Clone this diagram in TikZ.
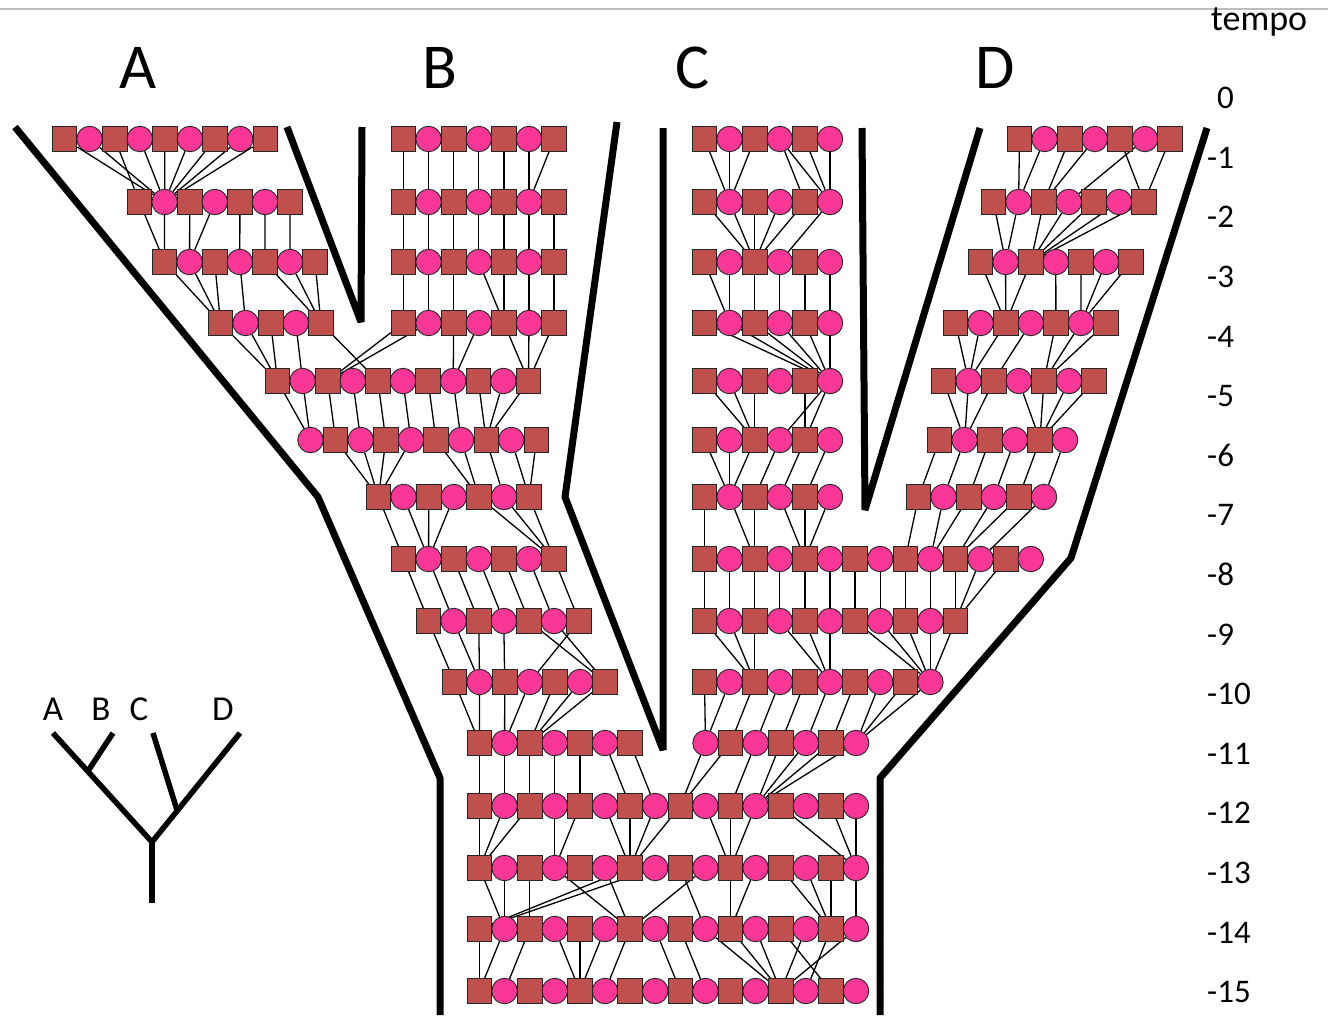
\documentclass[tikz,border=0pt]{standalone}
\usepackage{fontspec}
\setmainfont{Carlito}
\usetikzlibrary{calc}
\definecolor{sqred}{RGB}{192,80,77}
\definecolor{cipink}{RGB}{250,55,150}
\pgfdeclarelayer{bg}
\pgfsetlayers{bg,main}
\tikzset{
	sq/.style={draw=black!85, line width=0.9pt, fill=sqred, minimum size=24.5pt, inner sep=0pt},
	ci/.style={circle, draw=black!85, line width=0.9pt, fill=cipink, minimum size=25.5pt, inner sep=0pt},
	link/.style={line width=1.3pt},
	wall/.style={line width=7pt, line join=bevel},
	tree/.style={line width=5.5pt},
	tlab/.style={anchor=west, inner sep=0pt, font=\fontsize{33}{33}\selectfont},
}
% row: name, y, left edge, count, first shape (0 square, 1 circle)
\newcommand{\mkrow}[5]{%
	\foreach \ii in {1,...,#4} {
		\pgfmathtruncatemacro{\jj}{\ii-1}
		\pgfmathtruncatemacro{\pty}{mod(\jj+#5,2)}
		\ifnum\pty=0
			\node[sq] (#1-\jj) at ({#3+12.5+25.1*\jj},#2) {};
		\else
			\node[ci] (#1-\jj) at ({#3+12.5+25.1*\jj},#2) {};
		\fi
	}}
% links: child row, parent row, child/parent pairs
\newcommand{\lnk}[3]{%
	\begin{pgfonlayer}{bg}
		\foreach \ch/\pa in {#3} {\draw[link] (#1-\ch) -- (#2-\pa);}
	\end{pgfonlayer}}

\begin{document}
\begin{tikzpicture}[x=1pt, y=-1pt]
	\useasboundingbox (0,0) rectangle (1328,1015);
	\draw [black!25, line width=1.5pt] (0,9) -- (1328,9);

	\mkrow{a0}{139}{52}{9}{0}
	\mkrow{a1}{202}{127}{7}{0}
	\mkrow{a2}{262}{152}{7}{0}
	\mkrow{a3}{323}{208}{5}{0}
	\mkrow{b0}{139}{391}{7}{0}
	\mkrow{b1}{202}{391}{7}{0}
	\mkrow{b2}{262}{391}{7}{0}
	\mkrow{b3}{323}{391}{7}{0}
	\mkrow{c0}{139}{692}{6}{0}
	\mkrow{c1}{202}{692}{6}{0}
	\mkrow{c2}{262}{692}{6}{0}
	\mkrow{c3}{323}{692}{6}{0}
	\mkrow{c4}{381}{692}{6}{0}
	\mkrow{c5}{440}{692}{6}{0}
	\mkrow{c6}{497}{692}{6}{0}
	\mkrow{d0}{139}{1007}{7}{0}
	\mkrow{d1}{202}{981}{7}{0}
	\mkrow{d2}{262}{968}{7}{0}
	\mkrow{d3}{323}{943}{7}{0}
	\mkrow{d4}{381}{931}{7}{0}
	\mkrow{d5}{440}{927}{6}{0}
	\mkrow{d6}{497}{906}{6}{0}
	\mkrow{ab4}{381}{265}{11}{0}
	\mkrow{ab5}{440}{298}{10}{1}
	\mkrow{ab6}{497}{366}{7}{0}
	\mkrow{b7}{559}{391}{7}{0}
	\mkrow{b8}{621}{416}{7}{0}
	\mkrow{b9}{682}{442}{7}{0}
	\mkrow{b10}{743}{467}{7}{0}
	\mkrow{cd7}{559}{692}{14}{0}
	\mkrow{cd8}{621}{692}{11}{0}
	\mkrow{cd9}{682}{692}{10}{0}
	\mkrow{cd10}{743}{693}{7}{1}
	\mkrow{m11}{806}{467}{16}{0}
	\mkrow{m12}{868}{467}{16}{0}
	\mkrow{m13}{929}{467}{16}{0}
	\mkrow{m14}{991}{467}{16}{0}

	\lnk{a0}{a1}{0/1,1/1,2/0,3/1,4/1,5/1,6/1,7/1,8/1}
	\lnk{a1}{a2}{0/0,1/0,2/1,3/1,4/3,5/4,6/5}
	\lnk{a2}{a3}{0/0,1/0,2/0,3/1,4/4,5/4,6/4}
	\lnk{a3}{ab4}{0/0,1/0,2/0,3/1,4/4}
	\lnk{b0}{b1}{0/0,1/1,2/2,3/3,4/4,5/5,6/5}
	\lnk{b1}{b2}{0/0,1/1,2/2,3/3,4/4,5/5,6/6}
	\lnk{b2}{b3}{0/0,1/1,2/2,3/4,4/4,5/5,6/6}
	\lnk{b3}{ab4}{0/2,1/2,2/7,3/7,4/10,5/10,6/10}
	\lnk{c0}{c1}{0/1,1/1,2/1,3/4,3/5,4/5,5/5}
	\lnk{c1}{c2}{0/2,1/2,2/2,3/2,4/2,5/3}
	\lnk{c2}{c3}{0/1,1/1,2/2,3/3,4/4,5/5}
	\lnk{c3}{c4}{0/5,1/5,2/5,3/5,4/5,5/5}
	\lnk{c4}{c5}{0/2,1/2,2/2,4/4,5/3,5/4}
	\lnk{c5}{c6}{0/1,1/1,2/1,3/2,4/3,5/4}
	\lnk{c6}{cd7}{0/0,1/2,2/2,3/4,4/4,5/4}
	\lnk{d0}{d1}{0/1,1/1,2/2,3/2,4/6,5/3,6/6}
	\lnk{d1}{d2}{0/1,1/1,2/2,3/2,4/2,5/2,6/2}
	\lnk{d2}{d3}{0/2,1/2,2/2,3/4,4/5,5/5,6/5}
	\lnk{d3}{d4}{0/1,1/1,2/1,3/2,4/4,5/4,6/4}
	\lnk{d4}{d5}{0/1,1/1,2/1,3/4,4/4,5/4,6/4}
	\lnk{d5}{d6}{0/0,1/1,2/2,3/3,4/4,5/5}
	\lnk{d6}{cd7}{0/8,1/9,2/9,3/10,4/10,5/11}
	\lnk{ab4}{ab5}{0/0,1/0,2/1,3/2,4/3,5/4,6/5,7/6,8/7,9/7,10/7}
	\lnk{ab5}{ab6}{1/0,2/0,3/0,4/0,5/4,6/4,7/5,8/6,9/6}
	\lnk{ab6}{b7}{0/0,1/1,2/1,3/1,4/6,5/6,6/6}
	\lnk{b7}{b8}{0/0,1/1,2/2,3/3,4/4,5/5,6/6}
	\lnk{b8}{b9}{0/0,1/1,2/1,3/2,4/6,5/6,6/3}
	\lnk{b9}{b10}{0/0,1/0,2/1,3/1,4/2,5/2,6/2}
	\lnk{b10}{m11}{0/0,1/1,2/2,3/3,4/4,5/6,6/7}
	\lnk{cd7}{cd8}{0/0,1/1,2/2,3/3,4/4,5/5,6/6,7/7,8/8,9/9,10/10,11/10,12/10}
	\lnk{cd8}{cd9}{0/2,1/2,2/2,3/5,4/5,5/5,6/9,7/9,8/9,9/9,10/9}
	\lnk{cd9}{cd10}{0/0,1/0,2/1,3/2,4/3,5/4,6/5,7/6,8/6,9/6}
	\lnk{cd10}{m11}{0/8,1/8,2/10,3/11,4/11,5/11,6/11}
	\lnk{m11}{m12}{0/0,1/0,2/0,3/3,4/3,5/6,6/6,7/6,8/6,9/10,10/10,11/10,12/15,14/15,15/15}
	\lnk{m12}{m13}{0/1,1/1,2/2,3/6,5/6,6/0,7/0,8/9,9/6,10/10,11/10,12/14,13/14,14/14,15/15}
	\lnk{m13}{m14}{0/0,1/0,2/1,3/4,4/4,5/4,6/5,7/8,8/9,9/12,10/12,11/12,12/14,13/12,14/13,15/12}

	\draw [wall] (15,127) -- (318,497) -- (440,778) -- (440,1015);
	\draw [wall] (287,127) -- (361,322) -- (362,127);
	\draw [wall] (617,122) -- (565,497) -- (663,750) -- (663,128);
	\draw [wall] (862,128) -- (865,510) -- (980,128);
	\draw [wall] (1207,128) -- (1071,558) -- (880,778) -- (880,1015);

	\foreach \lab/\xx in {A/138, B/440, C/693, D/995}
		\node (top\lab) at (\xx,68) [font=\fontsize{64}{64}\selectfont] {\lab};

	\node (tempo) at (1259,22) [font=\fontsize{36}{36}\selectfont] {tempo};
	\node (t0) at (1217,98) [tlab] {0};
	\foreach \t in {1,...,15}
		\node (t\t) at (1207,{98+59.6*\t}) [tlab] {-\t};

	\coordinate (la) at (53,733);
	\coordinate (lb) at (113,733);
	\coordinate (lc) at (153,733);
	\coordinate (ld) at (240,733);
	\coordinate (lab) at (88,771);
	\coordinate (lcd) at (177,810);
	\coordinate (lroot) at (152,842);
	\coordinate (lbase) at (152,903);
	\draw [tree] (la) -- (lroot) -- (ld);
	\draw [tree] (lroot) -- (lbase);
	\draw [tree] (lb) -- (lab);
	\draw [tree] (lc) -- (lcd);
	\foreach \lab/\xx in {A/53, B/101, C/139, D/223}
		\node (leg\lab) at (\xx,709) [font=\fontsize{35}{35}\selectfont] {\lab};
\end{tikzpicture}
\end{document}
